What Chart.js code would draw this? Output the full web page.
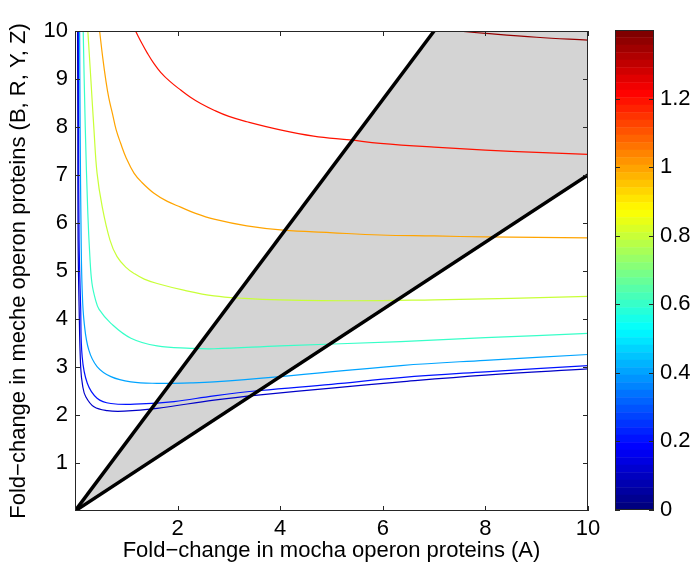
<!DOCTYPE html>
<html>
<head>
<meta charset="utf-8">
<script src="https://cdn.jsdelivr.net/npm/chart.js@4.4.1/dist/chart.umd.min.js"></script>
<style>
body { margin: 0; background: #fff; }
#wrap { position: relative; width: 693px; height: 567px; }
#main { position: absolute; left: 0; top: 0; }
#barra { position: absolute; left: 600px; top: 0; }
</style>
</head>
<body>
<div id="wrap">
<canvas id="main" width="693" height="567"></canvas>
<canvas id="barra" width="93" height="567"></canvas>
</div>
<script>
// contour levels and curves, as [x, y] pairs
var niveis = [0.1, 0.2, 0.4, 0.6, 0.8, 1.0, 1.2, 1.37];

var curva01 = [[0.05,10],[0.055,8],[0.06,5.65],[0.08,4.26],[0.11,3.01],[0.15,2.6],[0.21,2.38],[0.37,2.17],[0.63,2.09],[0.96,2.08],[1.6,2.14],[2.71,2.31],[3.61,2.42],[5,2.56],[6.35,2.69],[8,2.83],[10,2.96]];
var curva02 = [[0.065,10],[0.07,8],[0.08,5.65],[0.11,4.26],[0.14,3.21],[0.24,2.66],[0.43,2.35],[0.7,2.24],[1.28,2.23],[1.93,2.28],[2.71,2.4],[3.61,2.51],[5,2.64],[6.35,2.78],[8,2.9],[10,3.03]];
var curva04 = [[0.09,10],[0.1,8],[0.12,5.65],[0.14,4.6],[0.18,3.91],[0.27,3.35],[0.43,3.01],[0.7,2.8],[1.09,2.69],[1.6,2.66],[2.26,2.67],[2.71,2.69],[4,2.8],[6.35,3.03],[8,3.14],[10,3.26]];
var curva06 = [[0.16,10],[0.2,8],[0.25,6.2],[0.29,5.3],[0.33,4.75],[0.4,4.4],[0.47,4.2],[0.7,3.91],[1.09,3.6],[1.6,3.44],[2.26,3.39],[2.71,3.38],[4,3.44],[6.35,3.53],[8,3.61],[10,3.70]];
var curva08 = [[0.25,10],[0.31,8.98],[0.37,7.94],[0.43,7.04],[0.53,6.34],[0.68,5.65],[0.82,5.3],[1.0,5.07],[1.15,4.95],[1.35,4.83],[1.6,4.74],[2.12,4.6],[2.71,4.48],[3.3,4.43],[4,4.40],[5.5,4.38],[7,4.40],[8.5,4.43],[10,4.47]];
var curva10 = [[0.48,10],[0.54,9.45],[0.6,8.98],[0.66,8.6],[0.73,8.28],[0.8,7.95],[0.89,7.66],[1.0,7.35],[1.15,7.04],[1.3,6.85],[1.54,6.62],[1.8,6.45],[2.06,6.33],[2.35,6.2],[2.71,6.08],[3.35,5.94],[4.06,5.85],[4.97,5.80],[5.95,5.75],[7,5.73],[8,5.71],[10,5.69]];
var curva12 = [[1.18,10],[1.3,9.75],[1.41,9.54],[1.54,9.32],[1.67,9.14],[1.85,8.95],[2.06,8.77],[2.25,8.62],[2.45,8.49],[2.71,8.35],[3.0,8.22],[3.35,8.11],[4.0,7.94],[4.65,7.81],[5.36,7.73],[5.95,7.66],[7,7.58],[8,7.52],[9,7.47],[10,7.43]];
var curva14 = [[7.46,10],[8,9.95],[9,9.87],[10,9.81]];

// boundaries of the shaded region
var retaSuperior = [[0,0],[7,10]];
var retaInferior = [[0,0],[10,7]];
var regiao = [[0,0],[7,10],[10,10],[10,7],[0,0]];

var ticksX = [2, 4, 6, 8, 10];
var ticksY = [1, 2, 3, 4, 5, 6, 7, 8, 9, 10];
var ticksCor = [0, 0.2, 0.4, 0.6, 0.8, 1, 1.2];
var maxCor = 1.4;
var nCores = 64;

var fonte = { family: '"Liberation Sans", Arial, sans-serif', size: 22 };

function jet(t) {
    var c = function (v) { return Math.round(255 * Math.max(0, Math.min(1, v))); };
    return 'rgb(' + c(1.5 - Math.abs(4 * t - 3)) + ',' + c(1.5 - Math.abs(4 * t - 2)) + ',' + c(1.5 - Math.abs(4 * t - 1)) + ')';
}

function pontos(arr) {
    return arr.map(function (p) { return { x: p[0], y: p[1] }; });
}

var caixaPlugin = {
    id: 'caixa',
    afterDatasetsDraw: function (chart, args, opts) {
        var ctx = chart.ctx, a = chart.chartArea;
        ctx.save();
        ctx.strokeStyle = '#262626';
        ctx.lineWidth = 1;
        ctx.beginPath();
        if (opts.x) {
            var xs = chart.scales.x;
            opts.x.forEach(function (v) {
                var p = Math.round(xs.getPixelForValue(v)) + 0.5;
                ctx.moveTo(p, a.bottom); ctx.lineTo(p, a.bottom - 5);
                ctx.moveTo(p, a.top); ctx.lineTo(p, a.top + 5);
            });
        }
        var ys = chart.scales.y;
        opts.y.forEach(function (v) {
            var p = Math.round(ys.getPixelForValue(v)) + 0.5;
            ctx.moveTo(a.left, p); ctx.lineTo(a.left + 5, p);
            ctx.moveTo(a.right, p); ctx.lineTo(a.right - 5, p);
        });
        ctx.stroke();
        ctx.strokeRect(Math.round(a.left) + 0.5, Math.round(a.top) + 0.5, Math.round(a.width) - 1, Math.round(a.height) - 1);
        ctx.restore();
    }
};

var curvas = [curva01, curva02, curva04, curva06, curva08, curva10, curva12, curva14];
var datasets = [
    { data: pontos(retaSuperior), borderColor: '#000', borderWidth: 3.5, order: 0 },
    { data: pontos(retaInferior), borderColor: '#000', borderWidth: 3.5, order: 0 }
];
curvas.forEach(function (c, i) {
    datasets.push({
        data: pontos(c),
        borderColor: jet(niveis[i] / maxCor),
        borderWidth: 1.2,
        tension: 0.4,
        order: 1
    });
});
datasets.push({ data: pontos(regiao), borderWidth: 0, borderColor: 'rgba(0,0,0,0)', backgroundColor: '#d4d4d4', fill: 'shape', order: 2 });

new Chart(document.getElementById('main'), {
    type: 'line',
    data: { datasets: datasets },
    options: {
        responsive: false,
        animation: false,
        parsing: false,
        elements: { point: { radius: 0 } },
        layout: { padding: { left: 0, right: 105, top: 31, bottom: 0 } },
        plugins: {
            legend: { display: false },
            tooltip: { enabled: false },
            caixa: { x: ticksX, y: ticksY }
        },
        scales: {
            x: {
                type: 'linear', min: 0, max: 10,
                afterFit: function (s) { s.height = 56; },
                grid: { display: false, drawTicks: false },
                border: { display: false },
                afterBuildTicks: function (s) { s.ticks = ticksX.map(function (v) { return { value: v }; }); },
                ticks: { color: '#000', font: fonte, padding: 5, maxRotation: 0 },
                title: { display: true, text: 'Fold\u2212change in mocha operon proteins (A)', color: '#000', font: fonte, padding: { top: 0, bottom: 3 } }
            },
            y: {
                type: 'linear', min: 0, max: 10,
                afterFit: function (s) { s.width = 75; },
                grid: { display: false, drawTicks: false },
                border: { display: false },
                afterBuildTicks: function (s) { s.ticks = ticksY.map(function (v) { return { value: v }; }); },
                ticks: { color: '#000', font: fonte, padding: 7 },
                title: { display: true, text: 'Fold\u2212change in meche operon proteins (B, R, Y, Z)', color: '#000', font: fonte, padding: { top: 6, bottom: 0 } }
            }
        }
    },
    plugins: [caixaPlugin]
});

// colour bar
var faixas = [];
for (var i = 0; i < nCores; i++) {
    faixas.push({
        data: [[i * maxCor / nCores, (i + 1) * maxCor / nCores]],
        backgroundColor: jet(i / (nCores - 1)),
        borderWidth: 0,
        grouped: false,
        barPercentage: 1,
        categoryPercentage: 1
    });
}

new Chart(document.getElementById('barra'), {
    type: 'bar',
    data: { labels: [''], datasets: faixas },
    options: {
        responsive: false,
        animation: false,
        layout: { padding: { left: 15, right: 0, top: 30, bottom: 57 } },
        plugins: {
            legend: { display: false },
            tooltip: { enabled: false },
            caixa: { y: ticksCor }
        },
        scales: {
            x: { display: false },
            y: {
                position: 'right', min: 0, max: maxCor,
                afterFit: function (s) { s.width = 39; },
                grid: { display: false, drawTicks: false },
                border: { display: false },
                afterBuildTicks: function (s) { s.ticks = ticksCor.map(function (v) { return { value: v }; }); },
                ticks: { color: '#000', font: fonte, padding: 6, callback: function (v) { return String(+v.toFixed(2)); } }
            }
        }
    },
    plugins: [caixaPlugin]
});
</script>
</body>
</html>
